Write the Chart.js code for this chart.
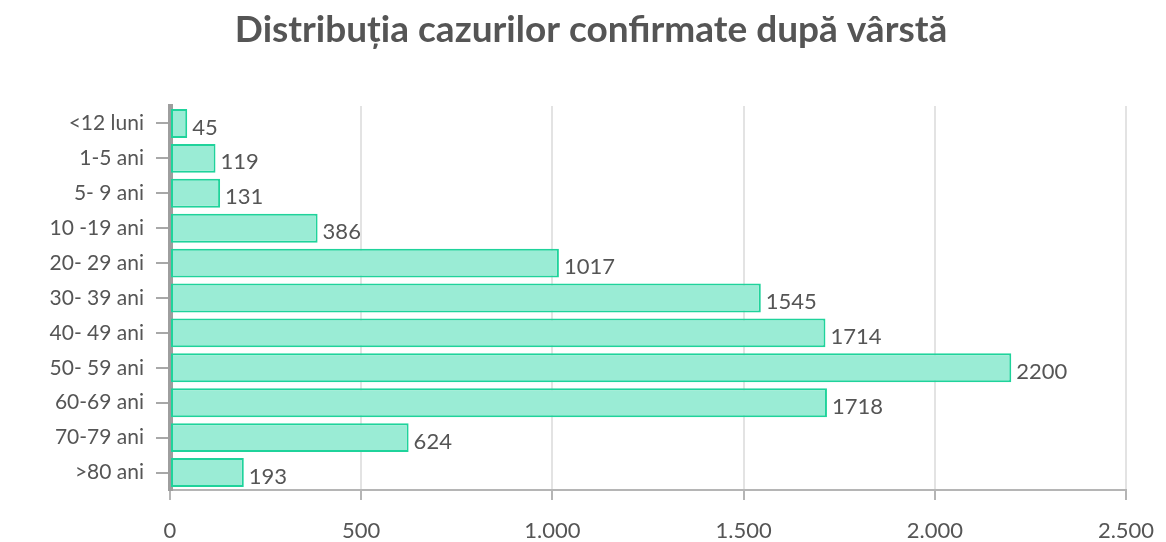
<!DOCTYPE html>
<html>
<head>
<meta charset="utf-8">
<script src="https://cdn.jsdelivr.net/npm/chart.js@4.4.0/dist/chart.umd.min.js"></script>
<style>
  html, body { margin: 0; padding: 0; background: #fff; }
  #wrap { width: 1166px; height: 542px; }
</style>
</head>
<body>
<div id="wrap"><canvas id="ageChart" width="1166" height="542"></canvas></div>
<script>
const chartTitle = "Distribuția cazurilor confirmate după vârstă";
const ageGroups = ["<12 luni", "1-5 ani", "5- 9 ani", "10 -19 ani", "20- 29 ani", "30- 39 ani",
  "40- 49 ani", "50- 59 ani", "60-69 ani", "70-79 ani", ">80 ani"];
const caseCounts = [45, 119, 131, 386, 1017, 1545, 1714, 2200, 1718, 624, 193];
const xTicks = [0, 500, 1000, 1500, 2000, 2500];

const textColor = "#555";
const fontFamily = "Lato, 'Noto Sans', sans-serif";

// title is centred on the page a bit right of the plot centre, so draw it by hand
const pageTitle = {
  id: "pageTitle",
  afterDraw(chart) {
    const ctx = chart.ctx;
    ctx.save();
    ctx.font = "bold 37px " + fontFamily;
    ctx.fillStyle = textColor;
    ctx.textAlign = "center";
    ctx.textBaseline = "middle";
    ctx.fillText(chartTitle, 591, 30);
    ctx.restore();
  }
};

// draws the number just right of each bar
const barValueLabels = {
  id: "barValueLabels",
  afterDatasetsDraw(chart) {
    const ctx = chart.ctx;
    const meta = chart.getDatasetMeta(0);
    ctx.save();
    ctx.font = "22px " + fontFamily;
    ctx.fillStyle = textColor;
    ctx.textAlign = "left";
    ctx.textBaseline = "middle";
    meta.data.forEach((bar, i) => {
      ctx.fillText(String(caseCounts[i]), bar.x + 5, bar.y + 4);
    });
    ctx.restore();
  }
};

const ctx = document.getElementById("ageChart").getContext("2d");
new Chart(ctx, {
  type: "bar",
  data: {
    labels: ageGroups,
    datasets: [{
      data: caseCounts,
      backgroundColor: "rgba(154, 236, 213, 1)",
      borderColor: "#1fd39b",
      borderWidth: 2,
      borderSkipped: false,
      barPercentage: 0.92,
      categoryPercentage: 0.9,
    }],
  },
  options: {
    indexAxis: "y",
    responsive: false,
    animation: false,
    layout: { padding: { left: 10, right: 40, top: 106, bottom: 0 } },
    plugins: {
      legend: { display: false },
      tooltip: { enabled: false },
      title: { display: false },
    },
    scales: {
      x: {
        min: 0,
        max: 2500,
        afterBuildTicks: (axis) => { axis.ticks = xTicks.map((v) => ({ value: v })); },
        afterFit: (scale) => {
          scale.height = 52;
          scale.paddingLeft = 0;
          scale.paddingRight = 0;
        },
        border: { color: "#b5b5b5", width: 2 },
        grid: { color: "#e3e3e3", lineWidth: 2, tickColor: "#b5b5b5", tickLength: 10 },
        ticks: {
          color: textColor,
          font: { family: fontFamily, size: 22 },
          padding: 18,
          callback: (v) => v.toLocaleString("de-DE"),
        },
      },
      y: {
        z: 1,
        afterFit: (scale) => { scale.width = 160; },
        border: { color: "#9e9e9e", width: 5 },
        grid: { drawOnChartArea: false, offset: false, color: "#a8a8a8", lineWidth: 2, tickLength: 14 },
        ticks: {
          color: textColor,
          font: { family: fontFamily, size: 21 },
          padding: 12,
        },
      },
    },
  },
  plugins: [barValueLabels, pageTitle],
});
</script>
</body>
</html>
